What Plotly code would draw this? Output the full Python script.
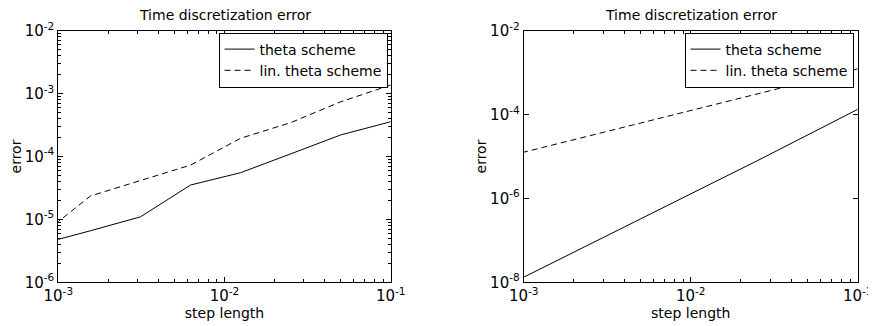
import plotly.graph_objects as go

# ---------------- data ----------------
step_length = [0.1, 0.05, 0.025, 0.0125, 0.00625, 0.003125, 0.0015625, 0.00078125]

# left panel
theta_left = [3.57e-4, 2.2e-4, 1.1e-4, 5.53e-5, 3.52e-5, 1.1e-5, 6.6e-6, 4.05e-6]
lin_theta_left = [1.37e-3, 7.4e-4, 3.45e-4, 1.95e-4, 7.3e-5, 4.2e-5, 2.36e-5, 5.5e-6]

# right panel
theta_right = [1.33e-4, 3.2e-5, 7.9e-6, 2.0e-6, 5.0e-7, 1.26e-7, 3.2e-8, 8.1e-9]
lin_theta_right = [1.23e-3, 6.2e-4, 3.1e-4, 1.56e-4, 7.8e-5, 3.9e-5, 1.96e-5, 9.9e-6]

series_names = ["theta scheme", "lin. theta scheme"]
panel_title = "Time discretization error"
x_title = "step length"
y_title = "error"

x_tickvals = [1e-3, 1e-2, 1e-1]
x_ticktext = ["10<sup>-3</sup>", "10<sup>-2</sup>", "10<sup>-1</sup>"]
yl_tickvals = [1e-6, 1e-5, 1e-4, 1e-3, 1e-2]
yl_ticktext = ["10<sup>-6</sup>", "10<sup>-5</sup>", "10<sup>-4</sup>", "10<sup>-3</sup>", "10<sup>-2</sup>"]
yr_tickvals = [1e-8, 1e-6, 1e-4, 1e-2]
yr_ticktext = ["10<sup>-8</sup>", "10<sup>-6</sup>", "10<sup>-4</sup>", "10<sup>-2</sup>"]

x_minor = [m * 10 ** e for e in (-3, -2) for m in range(2, 10)]
yl_minor = [m * 10 ** e for e in (-6, -5, -4, -3) for m in range(2, 10)]

# ---------------- figure ----------------
# the page body has an 8px margin, so figure coords = page coords - 8
OFF = 8
W, H = 876 - OFF, 326 - OFF
FONT = "DejaVu Sans"

def px_x(p):
    return (p - OFF) / W

def px_y(p):
    return (H - (p - OFF)) / H

fig = go.Figure()

line_solid = dict(color="black", width=1)
line_dash = dict(color="black", width=1, dash="6px,4px")

fig.add_trace(go.Scatter(x=step_length, y=theta_left, mode="lines", name=series_names[0],
                         line=line_solid, xaxis="x", yaxis="y", legend="legend"))
fig.add_trace(go.Scatter(x=step_length, y=lin_theta_left, mode="lines", name=series_names[1],
                         line=line_dash, xaxis="x", yaxis="y", legend="legend"))
fig.add_trace(go.Scatter(x=step_length, y=theta_right, mode="lines", name=series_names[0],
                         line=line_solid, xaxis="x2", yaxis="y2", legend="legend2"))
fig.add_trace(go.Scatter(x=step_length, y=lin_theta_right, mode="lines", name=series_names[1],
                         line=line_dash, xaxis="x2", yaxis="y2", legend="legend2"))

left_dom = [px_x(58.3), px_x(390.7)]
right_dom = [px_x(523.7), px_x(857.7)]
y_dom = [px_y(282.3), px_y(30.7)]

TICKFONT = dict(family=FONT, size=15, color="black")
TITLEFONT = dict(family=FONT, size=14, color="black")

def xaxis(dom, anchor):
    return dict(
        type="log", domain=dom, anchor=anchor, range=[-3, -1], automargin=False,
        tickmode="array", tickvals=x_tickvals, ticktext=x_ticktext,
        ticks="inside", ticklen=5, tickwidth=1, tickcolor="black",
        showline=True, linecolor="black", linewidth=1, mirror="ticks",
        showgrid=False, zeroline=False,
        minor=dict(tickmode="array", tickvals=x_minor, ticks="inside", ticklen=3,
                   tickcolor="black", showgrid=False),
        tickfont=TICKFONT,
        title=dict(text=x_title, font=TITLEFONT, standoff=2),
    )

def yaxis(dom, anchor, rng, tv, tt, minor_vals):
    d = dict(
        type="log", domain=dom, anchor=anchor, range=rng, automargin=False,
        tickmode="array", tickvals=tv, ticktext=tt,
        ticks="inside", ticklen=5, tickwidth=1, tickcolor="black",
        showline=True, linecolor="black", linewidth=1, mirror="ticks",
        showgrid=False, zeroline=False,
        tickfont=TICKFONT,
        title=dict(text=y_title, font=TITLEFONT, standoff=0),
    )
    if minor_vals:
        d["minor"] = dict(tickmode="array", tickvals=minor_vals, ticks="inside", ticklen=3,
                          tickcolor="black", showgrid=False)
    return d

legend_style = dict(
    bgcolor="white", bordercolor="black", borderwidth=1,
    font=dict(family=FONT, size=14, color="black"),
    xanchor="right", yanchor="top", tracegroupgap=0,
)

fig.update_layout(
    width=W, height=H,
    margin=dict(l=0, r=0, t=0, b=0, autoexpand=False),
    paper_bgcolor="white", plot_bgcolor="white",
    font=dict(family=FONT, size=14, color="black"),
    xaxis=xaxis(left_dom, "y"),
    yaxis=yaxis(y_dom, "x", [-6, -2], yl_tickvals, yl_ticktext, yl_minor),
    xaxis2=xaxis(right_dom, "y2"),
    yaxis2=yaxis(y_dom, "x2", [-8, -2], yr_tickvals, yr_ticktext, None),
    legend=dict(x=px_x(387.5), y=px_y(32.5), **legend_style),
    legend2=dict(x=px_x(853.5), y=px_y(32.5), **legend_style),
    showlegend=True,
)

for dom in (left_dom, right_dom):
    fig.add_annotation(text=panel_title, xref="paper", yref="paper",
                       x=(dom[0] + dom[1]) / 2, y=px_y(14.5),
                       xanchor="center", yanchor="middle", showarrow=False,
                       font=TITLEFONT)

fig.write_html("out.html")
